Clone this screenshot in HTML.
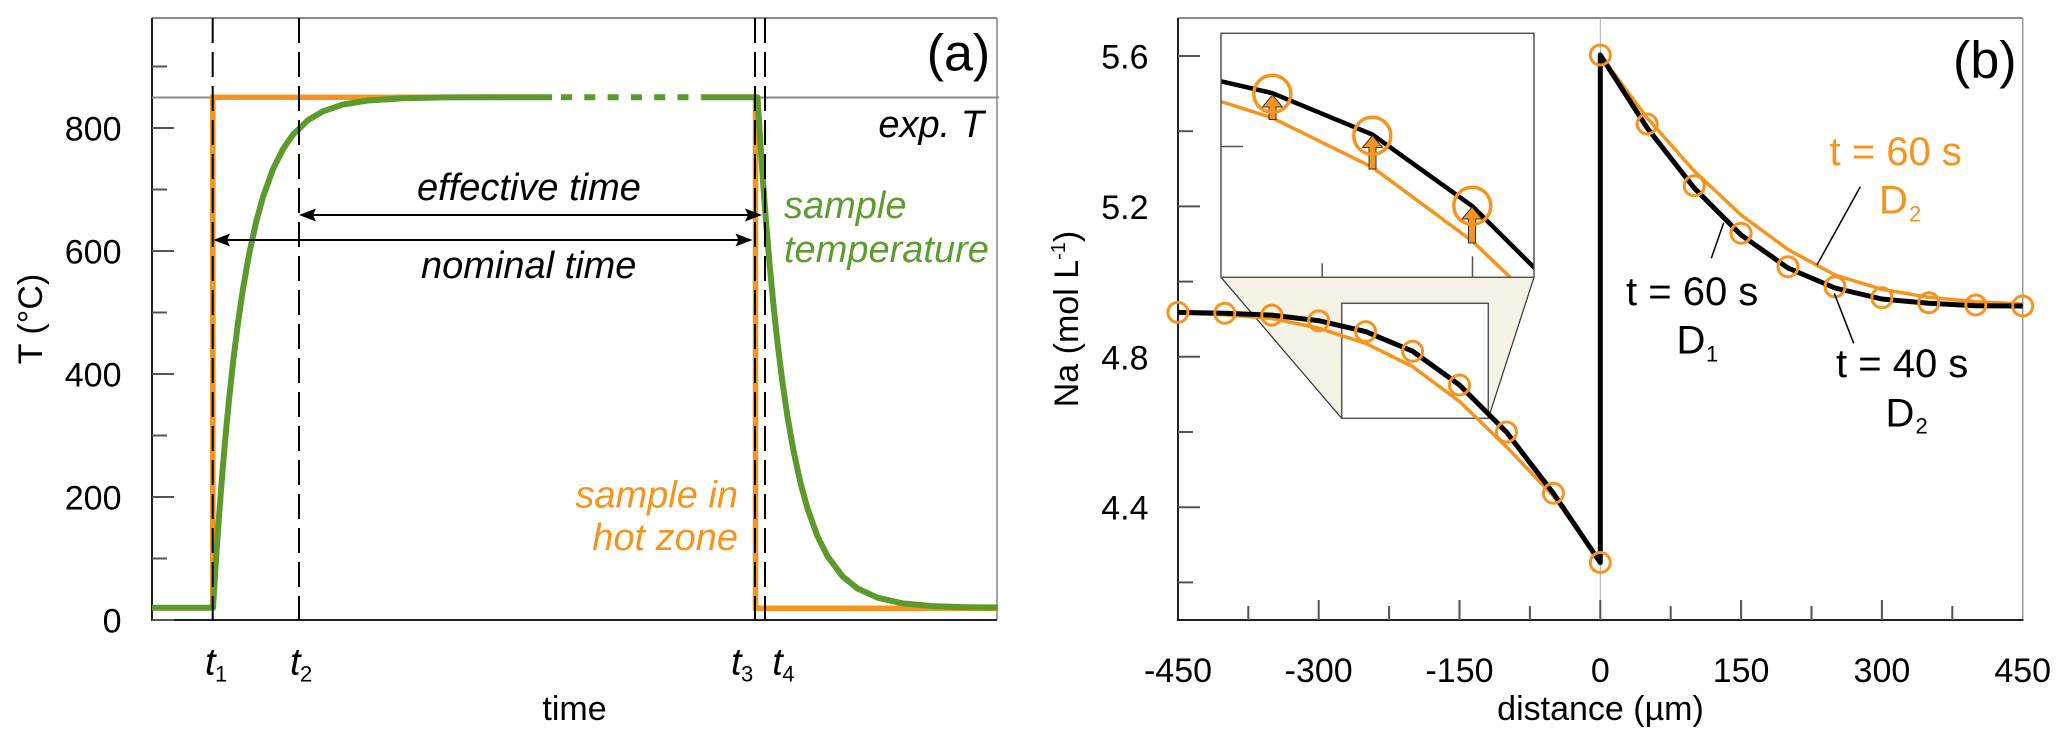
<!DOCTYPE html>
<html><head><meta charset="utf-8"><style>
body{margin:0;background:#fff}
svg{display:block}
text{font-family:"Liberation Sans",Arial,sans-serif}
</style></head><body>
<svg width="2067" height="746" viewBox="0 0 2067 746" xmlns="http://www.w3.org/2000/svg">
<rect width="2067" height="746" fill="#fff"/>

<!-- ============ PANEL A ============ -->
<line x1="152" y1="18" x2="997" y2="18" stroke="#666" stroke-width="1.5"/>
<line x1="997" y1="18" x2="997" y2="620" stroke="#888" stroke-width="1.5"/>
<line x1="152" y1="18" x2="152" y2="621" stroke="#222" stroke-width="2"/>
<line x1="151" y1="620" x2="997" y2="620" stroke="#222" stroke-width="2"/>
<g stroke="#555" stroke-width="2">
<line x1="152" y1="620" x2="174" y2="620"/>
<line x1="152" y1="497" x2="174" y2="497"/>
<line x1="152" y1="374" x2="174" y2="374"/>
<line x1="152" y1="251" x2="174" y2="251"/>
<line x1="152" y1="128" x2="174" y2="128"/>
<line x1="152" y1="558.5" x2="167" y2="558.5"/>
<line x1="152" y1="435.5" x2="167" y2="435.5"/>
<line x1="152" y1="312.5" x2="167" y2="312.5"/>
<line x1="152" y1="189.5" x2="167" y2="189.5"/>
<line x1="152" y1="66.5" x2="167" y2="66.5"/>
</g>
<g font-size="34" text-anchor="end" fill="#000">
<text x="121.5" y="632.5">0</text>
<text x="121.5" y="509.5">200</text>
<text x="121.5" y="386.5">400</text>
<text x="121.5" y="263.5">600</text>
<text x="121.5" y="140.5">800</text>
</g>
<text transform="translate(42,319) rotate(-90)" text-anchor="middle" font-size="34">T (°C)</text>
<text x="574.5" y="720" text-anchor="middle" font-size="34">time</text>

<line x1="152" y1="97.5" x2="999" y2="97.5" stroke="#8a8a8a" stroke-width="2"/>
<path d="M152,607.7 H212.8 V97.25 H755.5 V608.3 H997" fill="none" stroke="#F7941D" stroke-width="5.5" stroke-linejoin="miter"/>
<rect x="552" y="90" width="150" height="15" fill="#fff"/>
<g fill="none" stroke="#5D9A2C" stroke-width="6" stroke-linejoin="round">
<path d="M152,607.7 L213,607.7 L215,575.4 L217,545.2 L219,516.8 L221,490.3 L223,465.4 L226,431.0 L229,399.8 L233,362.8 L238,322.8 L243,288.8 L249,254.6 L256,222.5 L263,196.9 L273,169.1 L283,149.1 L293,134.6 L308,120.1 L323,111.3 L343,104.5 L368,100.5 L403,98.3 L443,97.4 L552,97.25"/>
<path d="M561,97.25 L701.7,97.25" stroke-dasharray="11 12.3"/>
<path d="M701.7,97.25 L757.5,97.25 L760.5,145.1 L763.5,188.4 L766.5,227.7 L769.5,263.2 L773.5,305.6 L777.5,342.7 L782.5,382.8 L787.5,416.8 L793.5,450.9 L800.5,483.0 L807.5,508.6 L817.5,536.3 L827.5,556.2 L842.5,576.3 L857.5,588.5 L877.5,597.7 L902.5,603.3 L932.5,606.1 L967.5,607.2 L998,607.5"/>
</g>
<g stroke="#000" stroke-width="2" stroke-dasharray="25 9">
<line x1="212.7" y1="18" x2="212.7" y2="620"/>
<line x1="299" y1="18" x2="299" y2="620"/>
<line x1="755" y1="18" x2="755" y2="620"/>
<line x1="765" y1="18" x2="765" y2="620"/>
</g>
<g stroke="#000" stroke-width="2">
<line x1="310" y1="215" x2="751" y2="215"/>
<line x1="224" y1="240" x2="742" y2="240"/>
</g>
<g fill="#000">
<polygon points="299,215 316,208.5 313,215 316,221.5"/>
<polygon points="762,215 745,208.5 748,215 745,221.5"/>
<polygon points="213.3,240 230,233.5 227,240 230,246.5"/>
<polygon points="752.5,240 735.5,233.5 738.5,240 735.5,246.5"/>
</g>
<g font-size="38" font-style="italic">
<text x="417" y="200">effective time</text>
<text x="421" y="278">nominal time</text>
<text x="984" y="137" text-anchor="end">exp. T</text>
<text x="784" y="218" fill="#5E9B30">sample</text>
<text x="784" y="262" fill="#5E9B30">temperature</text>
<text x="738" y="507.7" text-anchor="end" fill="#F7941D">sample in</text>
<text x="738" y="550" text-anchor="end" fill="#F7941D">hot zone</text>
</g>
<text x="926.7" y="70.5" font-size="52">(a)</text>
<g font-size="38" font-style="italic">
<text x="205" y="674.5">t</text>
<text x="290" y="674.5">t</text>
<text x="731" y="674.5">t</text>
<text x="772.3" y="674.5">t</text>
</g>
<g font-size="22">
<text x="215" y="681.5">1</text>
<text x="300" y="681.5">2</text>
<text x="741" y="681.5">3</text>
<text x="782.3" y="681.5">4</text>
</g>

<!-- ============ PANEL B ============ -->
<polygon points="1221,277.3 1534,277.3 1488.3,418.3 1341.7,418.3" fill="#F5F2E6"/>
<line x1="1221" y1="277.3" x2="1341.7" y2="418.3" stroke="#333" stroke-width="1.2"/>
<line x1="1534" y1="277.3" x2="1488.3" y2="418.3" stroke="#333" stroke-width="1.2"/>
<rect x="1341.7" y="303.3" width="146.6" height="115" fill="#fff" stroke="#555" stroke-width="1.5"/>

<line x1="1178" y1="18" x2="2022.7" y2="18" stroke="#666" stroke-width="1.5"/>
<line x1="2022.7" y1="18" x2="2022.7" y2="620" stroke="#999" stroke-width="1.5"/>
<line x1="1600.3" y1="18" x2="1600.3" y2="620" stroke="#aaa" stroke-width="1"/>
<line x1="1178" y1="18" x2="1178" y2="621" stroke="#222" stroke-width="2"/>
<line x1="1177" y1="620" x2="2023.5" y2="620" stroke="#222" stroke-width="2"/>
<g stroke="#555" stroke-width="2">
<line x1="1178" y1="56" x2="1200" y2="56"/>
<line x1="1178" y1="206.4" x2="1200" y2="206.4"/>
<line x1="1178" y1="356.8" x2="1200" y2="356.8"/>
<line x1="1178" y1="507.2" x2="1200" y2="507.2"/>
<line x1="1178" y1="131.2" x2="1193" y2="131.2"/>
<line x1="1178" y1="281.6" x2="1193" y2="281.6"/>
<line x1="1178" y1="432" x2="1193" y2="432"/>
<line x1="1178" y1="582.4" x2="1193" y2="582.4"/>
<line x1="1318.7" y1="620" x2="1318.7" y2="600"/>
<line x1="1459.5" y1="620" x2="1459.5" y2="600"/>
<line x1="1600.3" y1="620" x2="1600.3" y2="600"/>
<line x1="1741.1" y1="620" x2="1741.1" y2="600"/>
<line x1="1881.9" y1="620" x2="1881.9" y2="600"/>
<line x1="1248.3" y1="620" x2="1248.3" y2="606"/>
<line x1="1389.1" y1="620" x2="1389.1" y2="606"/>
<line x1="1529.9" y1="620" x2="1529.9" y2="606"/>
<line x1="1670.7" y1="620" x2="1670.7" y2="606"/>
<line x1="1811.5" y1="620" x2="1811.5" y2="606"/>
<line x1="1952.3" y1="620" x2="1952.3" y2="606"/>
</g>
<g font-size="34" text-anchor="end">
<text x="1148.5" y="68.5">5.6</text>
<text x="1148.5" y="218.9">5.2</text>
<text x="1148.5" y="369.3">4.8</text>
<text x="1148.5" y="519.7">4.4</text>
</g>
<g font-size="34" text-anchor="middle">
<text x="1178" y="682">-450</text>
<text x="1318.7" y="682">-300</text>
<text x="1459.5" y="682">-150</text>
<text x="1600.3" y="682">0</text>
<text x="1741.1" y="682">150</text>
<text x="1881.9" y="682">300</text>
<text x="2022.7" y="682">450</text>
<text x="1600.5" y="720">distance (µm)</text>
</g>
<text transform="translate(1078,319) rotate(-90)" text-anchor="middle" font-size="34">Na (mol L<tspan font-size="20" dy="-13">-1</tspan><tspan dy="13">)</tspan></text>

<polyline fill="none" stroke="#F7941D" stroke-width="3.5" stroke-linejoin="round" points="1177.9,313.2 1224.8,314.7 1271.8,318.4 1318.7,328.2 1365.6,343.3 1412.6,366.6 1459.5,401.5 1506.4,446.7 1553.4,496 1600.3,562.5 1600.3,55 1647.2,118 1694.2,171 1741.1,215 1788.0,249.5 1835.0,275 1881.9,289.3 1928.8,297.3 1975.8,301.7 2022.7,304"/>
<polyline fill="none" stroke="#000" stroke-width="5" stroke-linejoin="round" points="1177.9,312.4 1224.8,313.2 1271.8,315.1 1318.7,320.7 1365.6,331.6 1412.6,351.2 1459.5,385.0 1506.4,432.0 1553.4,493.3 1600.3,562.5 1600.3,55 1647.2,128 1694.2,188 1741.1,235 1788.0,268 1835.0,288 1881.9,299 1928.8,303.3 1975.8,305.7 2022.7,306"/>
<g fill="none" stroke="#F7941D" stroke-width="3">
<circle cx="1177.9" cy="312.4" r="10"/>
<circle cx="1224.8" cy="313.2" r="10"/>
<circle cx="1271.8" cy="315.1" r="10"/>
<circle cx="1318.7" cy="320.7" r="10"/>
<circle cx="1365.6" cy="331.6" r="10"/>
<circle cx="1412.6" cy="351.2" r="10"/>
<circle cx="1459.5" cy="385.0" r="10"/>
<circle cx="1506.4" cy="432.0" r="10"/>
<circle cx="1553.4" cy="493.3" r="10"/>
<circle cx="1600.3" cy="562.5" r="10"/>
<circle cx="1600.3" cy="55" r="10"/>
<circle cx="1647.2" cy="124" r="10"/>
<circle cx="1694.2" cy="185.7" r="10"/>
<circle cx="1741.1" cy="233.3" r="10"/>
<circle cx="1788.0" cy="266.7" r="10"/>
<circle cx="1835.0" cy="286.7" r="10"/>
<circle cx="1881.9" cy="297.7" r="10"/>
<circle cx="1928.8" cy="302.7" r="10"/>
<circle cx="1975.8" cy="305" r="10"/>
<circle cx="2022.7" cy="306" r="10"/>
</g>

<g stroke="#000" stroke-width="1.5">
<line x1="1711.3" y1="258.3" x2="1723.7" y2="222.7"/>
<line x1="1817" y1="265" x2="1860.3" y2="186.7"/>
<line x1="1834.3" y1="293.3" x2="1853.7" y2="343.3"/>
</g>
<g font-size="40">
<text x="1829.5" y="165" fill="#F7941D">t = 60 s</text>
<text x="1879" y="213.3" fill="#F7941D">D</text>
<text x="1626" y="305">t = 60 s</text>
<text x="1676.5" y="353.3">D</text>
<text x="1836" y="377">t = 40 s</text>
<text x="1885.5" y="426.7">D</text>
</g>
<g font-size="22">
<text x="1909" y="221.7" fill="#F7941D">2</text>
<text x="1706" y="361.7">1</text>
<text x="1915.5" y="433.3">2</text>
</g>
<text x="1953" y="77.5" font-size="52">(b)</text>

<defs><clipPath id="ic"><rect x="1221" y="33.3" width="313" height="244"/></clipPath></defs>
<rect x="1221" y="33.3" width="313" height="244" fill="#fff"/>
<g clip-path="url(#ic)">
<polyline fill="none" stroke="#F7941D" stroke-width="3.5" stroke-linejoin="round" points="1171.9,85.9 1272.1,117.8 1372.3,167.2 1472.5,241.3 1572.7,337"/>
<polyline fill="none" stroke="#000" stroke-width="4.5" stroke-linejoin="round" points="1171.9,70.0 1272.1,93.1 1372.3,134.5 1472.5,206.3 1572.7,305.9"/>
</g>
<g fill="#F7941D" stroke="#333" stroke-width="1">
<polygon points="1269,119.5 1269,107 1262.5,107 1272.5,95 1282.5,107 1276,107 1276,119.5"/>
<polygon points="1369,169 1369,147.5 1362.5,147.5 1372.5,135.5 1382.5,147.5 1376,147.5 1376,169"/>
<polygon points="1468.5,243 1468.5,219 1462,219 1472,207 1482,219 1475.5,219 1475.5,243"/>
</g>
<g fill="none" stroke="#F7941D" stroke-width="3.5">
<circle cx="1272.3" cy="93.8" r="18.5"/>
<circle cx="1372.3" cy="135.8" r="18.5"/>
<circle cx="1472.3" cy="205.8" r="18.5"/>
</g>
<rect x="1221" y="33.3" width="313" height="244" fill="none" stroke="#555" stroke-width="1.5"/>
<g stroke="#555" stroke-width="1.5">
<line x1="1221" y1="146.5" x2="1243" y2="146.5"/>
<line x1="1322.2" y1="277.3" x2="1322.2" y2="263.3"/>
<line x1="1472.5" y1="277.3" x2="1472.5" y2="256.3"/>
</g>
</svg>
</body></html>
